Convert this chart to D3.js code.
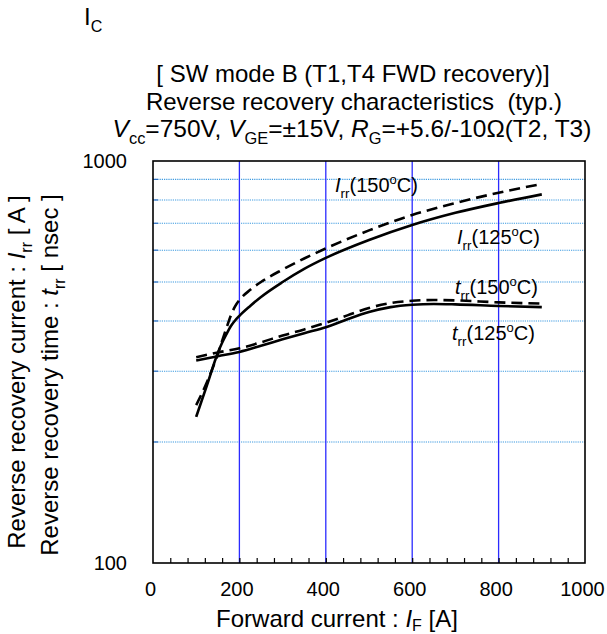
<!DOCTYPE html>
<html>
<head>
<meta charset="utf-8">
<script src="https://cdn.jsdelivr.net/npm/d3@7/dist/d3.min.js"></script>
<style>
  html, body { margin: 0; padding: 0; background: #fff; }
  svg { display: block; font-family: "Liberation Sans", Arial, Helvetica, sans-serif; }
</style>
</head>
<body>
<svg id="chart" width="607" height="634"></svg>
<script>
// Forward current I_F [A] for the reverse recovery current curves
const irrCurrent = [100, 125, 150, 160, 170, 180, 190, 200, 225, 250, 300, 350, 400, 500, 600, 700, 800, 900];
// Reverse recovery current I_rr [A]
const irr125 = [231, 277, 333, 353, 371, 388, 401, 412, 436, 459, 500, 539, 574, 636, 693, 743, 786, 826];
const irr150 = [247, 282, 331, 357, 384, 412, 435, 451, 478, 500, 537, 572, 606, 672, 734, 786, 834, 877];

// Forward current I_F [A] for the reverse recovery time curves
const trrCurrent = [100, 150, 200, 250, 300, 350, 400, 450, 500, 550, 600, 650, 700, 800, 900];
// Reverse recovery time t_rr [nsec]
const trr125 = [319, 327, 335, 347, 360, 373, 386, 404, 421, 433, 439, 441, 440, 436, 433];
const trr150 = [325, 334, 342, 354, 368, 381, 396, 413, 431, 443, 449, 451, 450, 445, 442];

const xTicks = [0, 200, 400, 600, 800, 1000];
const yTicks = [100, 1000];
const yGrid = [200, 300, 400, 500, 600, 700, 800, 900];
const xGrid = [200, 400, 600, 800];

const svg = d3.select("#chart");
const plotLeft = 153, plotRight = 585, plotTop = 161, plotBottom = 563;

const x = d3.scaleLinear().domain([0, 1000]).range([plotLeft, plotRight]);
const y = d3.scaleLog().domain([100, 1000]).range([plotBottom, plotTop]);

// Rich text helper: parts are [text, style] with style among "", "i", "sub", "sup"
function richText(g, px, py, parts, size, anchor, transform, subShift) {
  const t = g.append("text")
    .attr("x", px).attr("y", py)
    .attr("font-size", size)
    .attr("text-anchor", anchor || "start")
    .attr("fill", "#000");
  if (transform) t.attr("transform", transform);
  let offset = 0;
  parts.forEach(([txt, style]) => {
    const ts = t.append("tspan").text(txt);
    let target = 0, fs = size;
    if (style === "sub") { target = size * (subShift == null ? 0.28 : subShift); fs = size * 0.67; }
    if (style === "sup") { target = -size * 0.38; fs = size * 0.65; }
    ts.attr("font-size", fs);
    if (style === "i") ts.attr("font-style", "italic");
    if (target !== offset) { ts.attr("dy", target - offset); offset = target; }
  });
  return t;
}

// Horizontal dotted grid
svg.append("g").selectAll("line").data(yGrid).join("line")
  .attr("x1", plotLeft).attr("x2", plotRight)
  .attr("y1", d => y(d)).attr("y2", d => y(d))
  .attr("stroke", "#3d9ae0").attr("stroke-width", 1.1)
  .attr("stroke-dasharray", "1.2,1");

// Short ticks on the left edge at each grid value
svg.append("g").selectAll("line").data(yGrid).join("line")
  .attr("x1", plotLeft).attr("x2", plotLeft + 5)
  .attr("y1", d => y(d)).attr("y2", d => y(d))
  .attr("stroke", "#2f6fc0").attr("stroke-width", 1.2);

// Vertical grid
svg.append("g").selectAll("line").data(xGrid).join("line")
  .attr("x1", d => x(d)).attr("x2", d => x(d))
  .attr("y1", plotTop).attr("y2", plotBottom)
  .attr("stroke", "#2b2bff").attr("stroke-width", 1.3);

// Minor inward ticks on the bottom axis
svg.append("g")
  .attr("transform", `translate(0,${plotBottom})`)
  .call(d3.axisBottom(x).tickValues(d3.range(40, 1000, 40)).tickSizeInner(-5).tickSizeOuter(0).tickFormat(""))
  .call(g => g.select(".domain").remove())
  .call(g => g.selectAll(".tick line").attr("stroke", "#000").attr("stroke-width", 1.2));

// X tick labels
svg.append("g")
  .attr("transform", `translate(-3,${plotBottom})`)
  .call(d3.axisBottom(x).tickValues(xTicks).tickSize(0).tickPadding(19).tickFormat(d3.format("d")))
  .call(g => g.select(".domain").remove())
  .call(g => g.selectAll("text").attr("font-size", 20).attr("fill", "#000"));

// Y tick labels
svg.append("g")
  .attr("transform", `translate(${plotLeft},0)`)
  .call(d3.axisLeft(y).tickValues(yTicks).tickSize(0).tickPadding(26).tickFormat(d3.format("d")))
  .call(g => g.select(".domain").remove())
  .call(g => g.selectAll("text").attr("font-size", 20).attr("fill", "#000"));

svg.selectAll(".tick text").attr("font-family", "Liberation Sans, Arial, sans-serif");

// Frame
svg.append("rect")
  .attr("x", plotLeft).attr("y", plotTop)
  .attr("width", plotRight - plotLeft).attr("height", plotBottom - plotTop)
  .attr("fill", "none").attr("stroke", "#000").attr("stroke-width", 1.6);

// Curves
const line = d3.line().curve(d3.curveMonotoneX);
const series = [
  { xs: irrCurrent, v: irr125, dash: null },
  { xs: irrCurrent, v: irr150, dash: "11,6" },
  { xs: trrCurrent, v: trr125, dash: null },
  { xs: trrCurrent, v: trr150, dash: "11,6" }
];
svg.append("g").selectAll("path").data(series).join("path")
  .attr("d", s => line(s.xs.map((f, i) => [x(f), y(s.v[i])])))
  .attr("fill", "none")
  .attr("stroke", "#000")
  .attr("stroke-width", 2.6)
  .attr("stroke-dasharray", s => s.dash);

// Curve labels
const lab = svg.append("g");
richText(lab, 335, 192, [["I", "i"], ["rr", "sub"], ["(150", ""], ["o", "sup"], ["C)", ""]], 20);
richText(lab, 457, 244, [["I", "i"], ["rr", "sub"], ["(125", ""], ["o", "sup"], ["C)", ""]], 20);
richText(lab, 455, 294, [["t", "i"], ["rr", "sub"], ["(150", ""], ["o", "sup"], ["C)", ""]], 20);
richText(lab, 452, 340, [["t", "i"], ["rr", "sub"], ["(125", ""], ["o", "sup"], ["C)", ""]], 20);

// Titles
const tg = svg.append("g");
richText(tg, 84, 25, [["I", ""], ["C", "sub"]], 24);
richText(tg, 353, 82, [["[ SW mode B (T1,T4 FWD recovery)]", ""]], 24, "middle");
richText(tg, 354, 110, [["Reverse recovery characteristics\u00a0 (typ.)", ""]], 24, "middle");
richText(tg, 352, 137, [
  ["V", "i"], ["cc", "sub"], ["=750V, ", ""],
  ["V", "i"], ["GE", "sub"], ["=\u00b115V, ", ""],
  ["R", "i"], ["G", "sub"], ["=+5.6/-10\u03a9(T2, T3)", ""]
], 24.5, "middle");

// Axis titles
richText(tg, 337, 627, [["Forward current : ", ""], ["I", "i"], ["F", "sub"], [" [A]", ""]], 24, "middle", null, 0.18);
richText(tg, 0, 0, [["Reverse recovery current  :  ", ""], ["I", "i"], ["rr", "sub"], [" [ A ]", ""]], 24, "middle",
  "translate(25,372) rotate(-90)");
richText(tg, 0, 0, [["Reverse recovery time  :  ", ""], ["t", "i"], ["rr", "sub"], [" [ nsec ]", ""]], 24, "middle",
  "translate(58,375) rotate(-90)");
</script>
</body>
</html>
